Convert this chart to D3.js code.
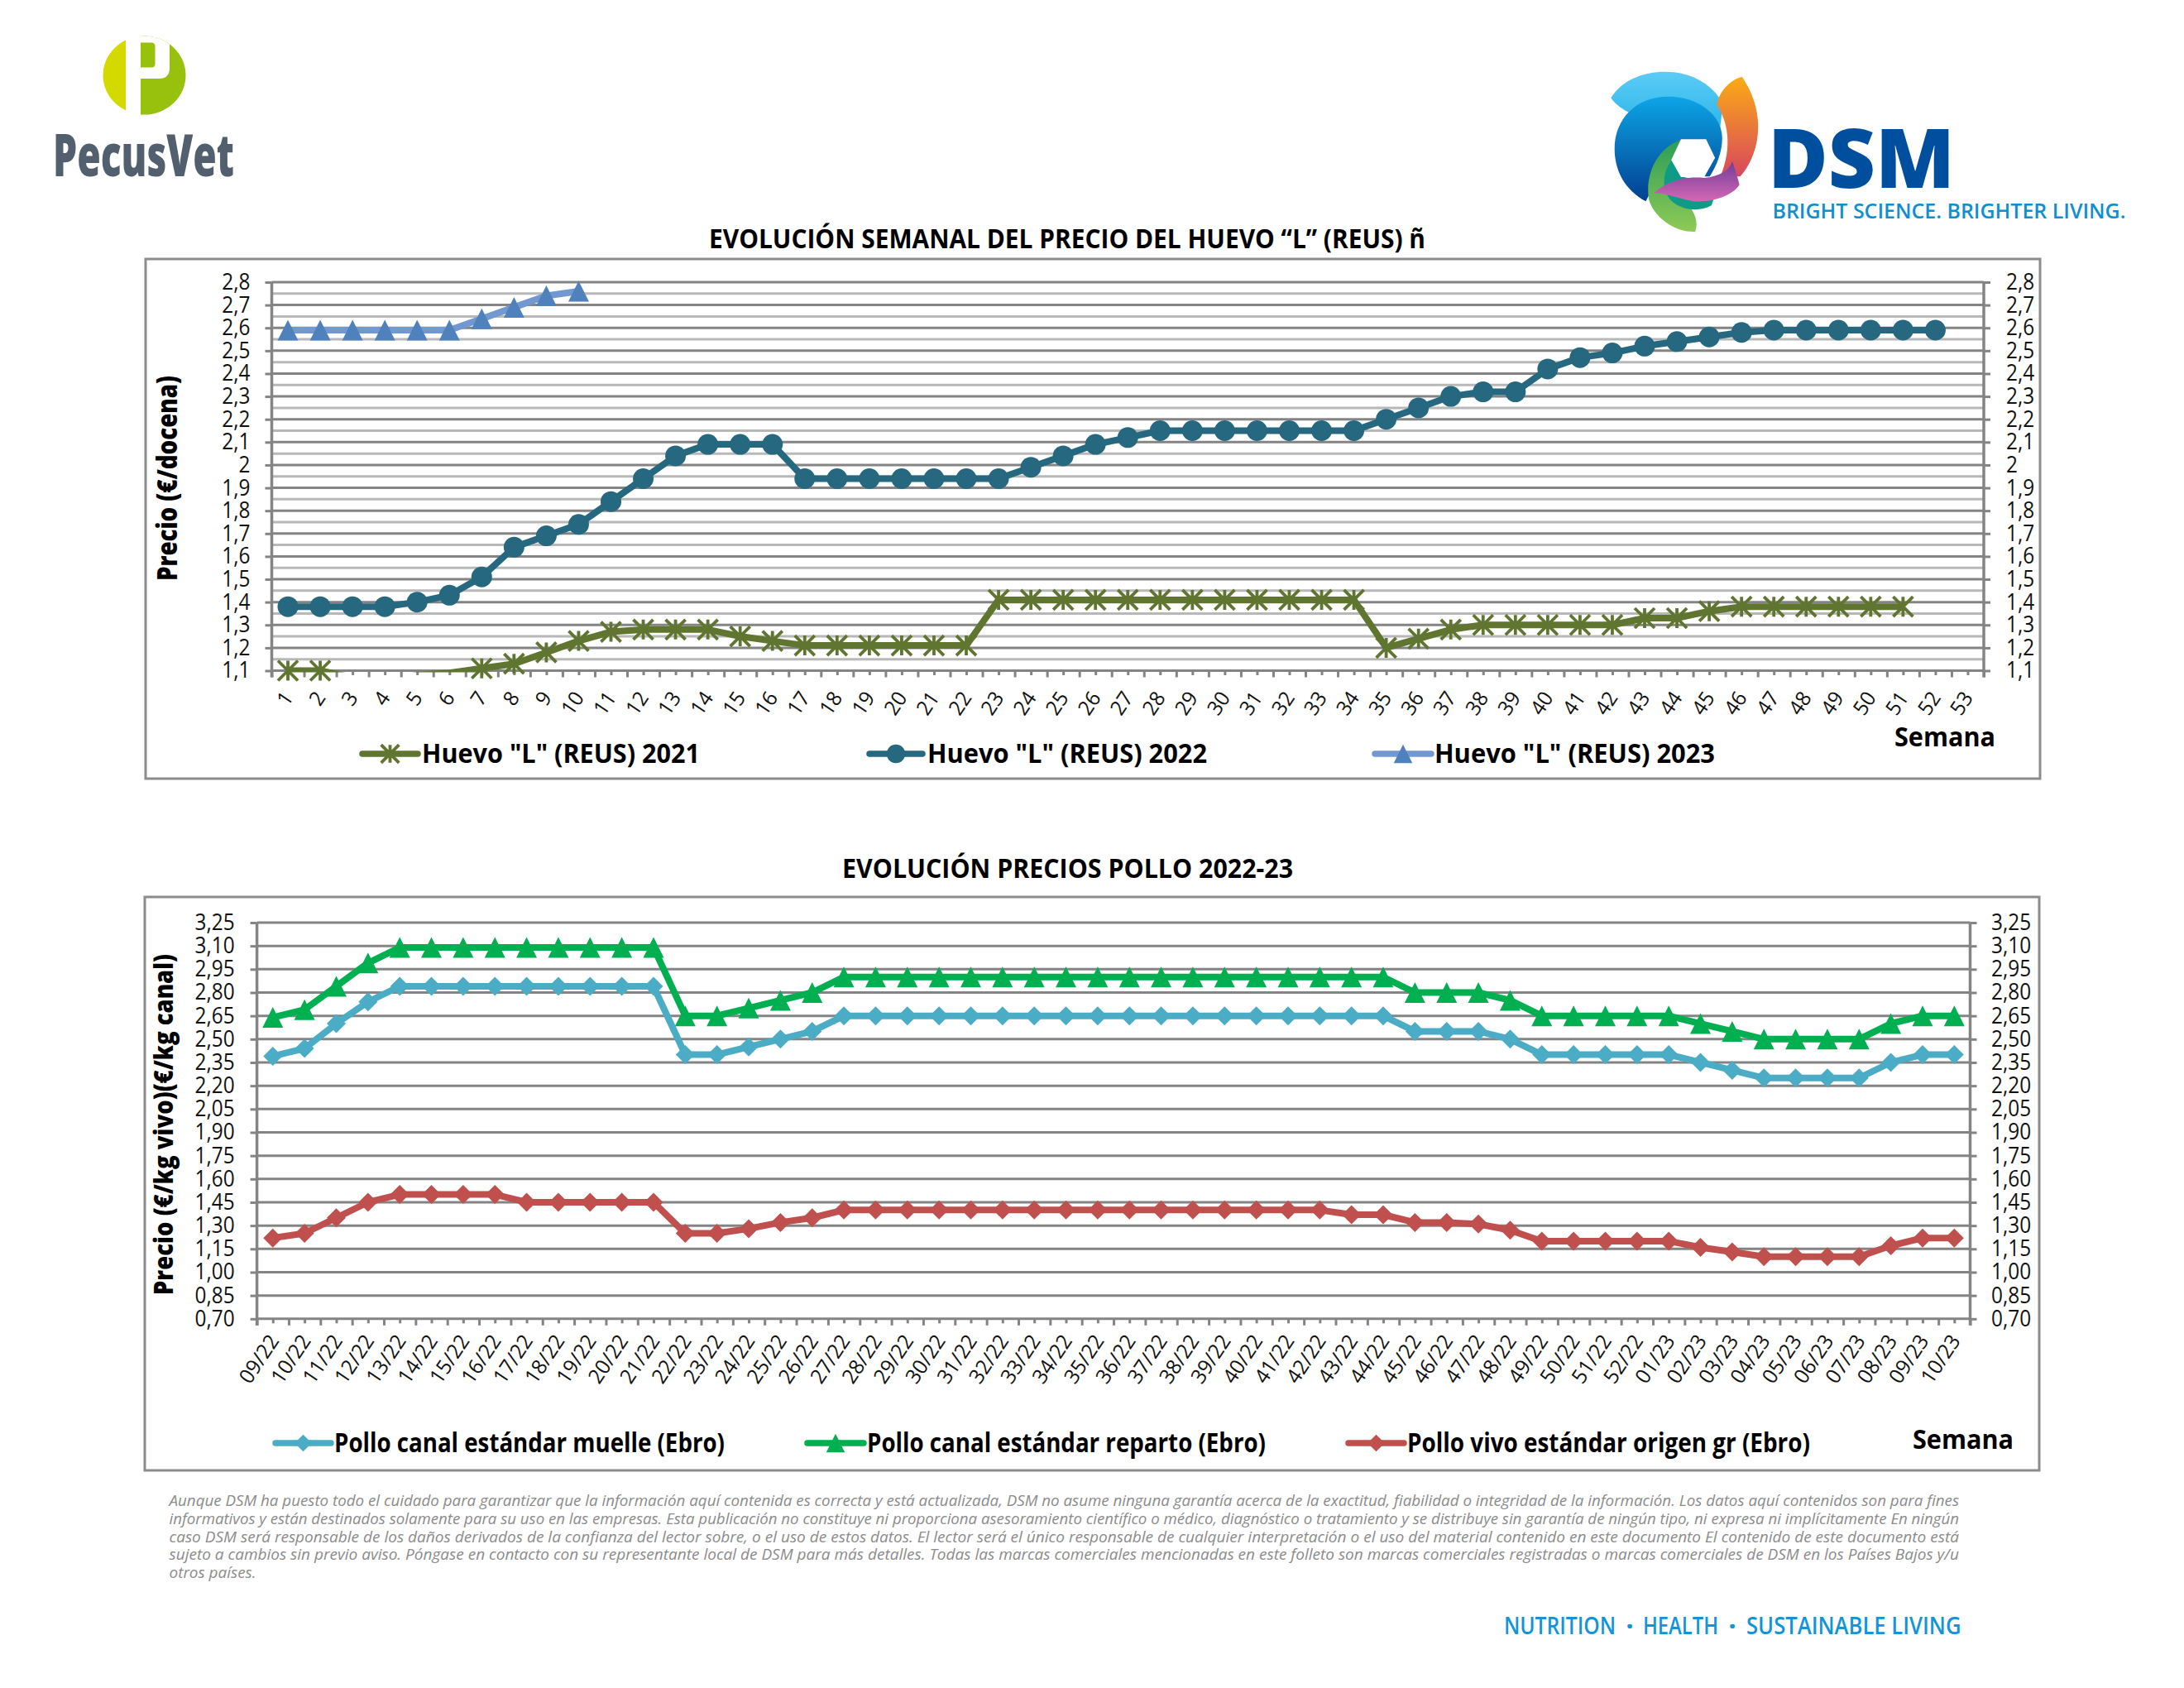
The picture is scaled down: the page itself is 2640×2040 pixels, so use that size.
<!DOCTYPE html>
<html><head><meta charset="utf-8">
<script src="https://cdn.jsdelivr.net/npm/d3@7"></script>
<style>html,body{margin:0;padding:0;background:#fff}svg{display:block}text{font-family:"Open Sans",sans-serif}</style>
</head><body><svg id="c" width="2640" height="2040" viewBox="0 0 2640 2040"></svg>
<script>
// ---------- data ----------
const eggWeeks = ["1","2","3","4","5","6","7","8","9","10","11","12","13","14","15","16","17","18","19","20","21","22","23","24","25","26","27","28","29","30","31","32","33","34","35","36","37","38","39","40","41","42","43","44","45","46","47","48","49","50","51","52","53"];
const egg2021 = [1.10,1.10,1.07,1.06,1.08,1.09,1.11,1.13,1.18,1.23,1.27,1.28,1.28,1.28,1.25,1.23,1.21,1.21,1.21,1.21,1.21,1.21,1.41,1.41,1.41,1.41,1.41,1.41,1.41,1.41,1.41,1.41,1.41,1.41,1.20,1.24,1.28,1.30,1.30,1.30,1.30,1.30,1.33,1.33,1.36,1.38,1.38,1.38,1.38,1.38,1.38];
const egg2022 = [1.38,1.38,1.38,1.38,1.40,1.43,1.51,1.64,1.69,1.74,1.84,1.94,2.04,2.09,2.09,2.09,1.94,1.94,1.94,1.94,1.94,1.94,1.94,1.99,2.04,2.09,2.12,2.15,2.15,2.15,2.15,2.15,2.15,2.15,2.20,2.25,2.30,2.32,2.32,2.42,2.47,2.49,2.52,2.54,2.56,2.58,2.59,2.59,2.59,2.59,2.59,2.59];
const egg2023 = [2.59,2.59,2.59,2.59,2.59,2.59,2.64,2.69,2.74,2.76];
const eggTicks = [1.1,1.2,1.3,1.4,1.5,1.6,1.7,1.8,1.9,2,2.1,2.2,2.3,2.4,2.5,2.6,2.7,2.8];
const eggMinor = [1.15,1.25,1.35,1.45,1.55,1.65,1.75,1.85,1.95,2.05,2.15,2.25,2.35,2.45,2.55,2.65,2.75];

const chickenWeeks = ["09/22","10/22","11/22","12/22","13/22","14/22","15/22","16/22","17/22","18/22","19/22","20/22","21/22","22/22","23/22","24/22","25/22","26/22","27/22","28/22","29/22","30/22","31/22","32/22","33/22","34/22","35/22","36/22","37/22","38/22","39/22","40/22","41/22","42/22","43/22","44/22","45/22","46/22","47/22","48/22","49/22","50/22","51/22","52/22","01/23","02/23","03/23","04/23","05/23","06/23","07/23","08/23","09/23","10/23"];
const muelle = [2.39,2.44,2.60,2.74,2.84,2.84,2.84,2.84,2.84,2.84,2.84,2.84,2.84,2.40,2.40,2.45,2.50,2.55,2.65,2.65,2.65,2.65,2.65,2.65,2.65,2.65,2.65,2.65,2.65,2.65,2.65,2.65,2.65,2.65,2.65,2.65,2.55,2.55,2.55,2.50,2.40,2.40,2.40,2.40,2.40,2.35,2.30,2.25,2.25,2.25,2.25,2.35,2.40,2.40];
const reparto = [2.64,2.69,2.84,2.99,3.09,3.09,3.09,3.09,3.09,3.09,3.09,3.09,3.09,2.65,2.65,2.70,2.75,2.80,2.90,2.90,2.90,2.90,2.90,2.90,2.90,2.90,2.90,2.90,2.90,2.90,2.90,2.90,2.90,2.90,2.90,2.90,2.80,2.80,2.80,2.75,2.65,2.65,2.65,2.65,2.65,2.60,2.55,2.50,2.50,2.50,2.50,2.60,2.65,2.65];
const vivo = [1.22,1.25,1.35,1.45,1.50,1.50,1.50,1.50,1.45,1.45,1.45,1.45,1.45,1.25,1.25,1.28,1.32,1.35,1.40,1.40,1.40,1.40,1.40,1.40,1.40,1.40,1.40,1.40,1.40,1.40,1.40,1.40,1.40,1.40,1.37,1.37,1.32,1.32,1.31,1.27,1.20,1.20,1.20,1.20,1.20,1.16,1.13,1.10,1.10,1.10,1.10,1.17,1.22,1.22];
const chickenTicks = [0.70,0.85,1.00,1.15,1.30,1.45,1.60,1.75,1.90,2.05,2.20,2.35,2.50,2.65,2.80,2.95,3.10,3.25];

const eggLegend = ['Huevo "L" (REUS) 2021','Huevo "L" (REUS) 2022','Huevo "L" (REUS) 2023'];
const chickenLegend = ['Pollo canal estándar muelle (Ebro)','Pollo canal estándar reparto (Ebro)','Pollo vivo estándar origen gr (Ebro)'];
const eggTitle = 'EVOLUCIÓN SEMANAL DEL PRECIO DEL HUEVO “L” (REUS) ñ';
const chickenTitle = 'EVOLUCIÓN PRECIOS POLLO 2022-23';
const disclaimer = [
"Aunque DSM ha puesto todo el cuidado para garantizar que la información aquí contenida es correcta y está actualizada, DSM no asume ninguna garantía acerca de la exactitud, fiabilidad o integridad de la información. Los datos aquí contenidos son para fines",
"informativos y están destinados solamente para su uso en las empresas. Esta publicación no constituye ni proporciona asesoramiento científico o médico, diagnóstico o tratamiento y se distribuye sin garantía de ningún tipo, ni expresa ni implícitamente En ningún",
"caso DSM será responsable de los daños derivados de la confianza del lector sobre, o el uso de estos datos. El lector será el único responsable de cualquier interpretación o el uso del material contenido en este documento El contenido de este documento está",
"sujeto a cambios sin previo aviso. Póngase en contacto con su representante local de DSM para más detalles. Todas las marcas comerciales mencionadas en este folleto son marcas comerciales registradas o marcas comerciales de DSM en los Países Bajos y/u",
"otros países."];

// ---------- helpers ----------
const svg = d3.select("#c");
const GRID="#848484", GRID2="#b8b8b8", BOX="#8c8c8c";
function squeeze(sel,f){sel.each(function(){const l=this.getComputedTextLength();this.setAttribute("textLength",l*f);this.setAttribute("lengthAdjust","spacingAndGlyphs");});return sel;}
function fitW(sel,w){sel.attr("textLength",w).attr("lengthAdjust","spacingAndGlyphs");return sel;}
function txt(p,s,x,y,size,weight,fill,width,anchor){
  const t=p.append("text").attr("x",x).attr("y",y).attr("font-size",size).attr("font-weight",weight).attr("fill",fill).attr("text-anchor",anchor||"start").text(s);
  if(width) fitW(t,width); return t;
}
const star={draw(ctx,size){const r=Math.sqrt(size)/2;
  ctx.moveTo(-r,-r);ctx.lineTo(r,r);ctx.moveTo(-r,r);ctx.lineTo(r,-r);ctx.moveTo(0,-r);ctx.lineTo(0,r);}};
const tri={draw(ctx,size){const r=Math.sqrt(size)/2;
  ctx.moveTo(0,-r);ctx.lineTo(r,r);ctx.lineTo(-r,r);ctx.closePath();}};
const dia={draw(ctx,size){const r=Math.sqrt(size)/2;
  ctx.moveTo(0,-r);ctx.lineTo(r,0);ctx.lineTo(0,r);ctx.lineTo(-r,0);ctx.closePath();}};
const circ={draw(ctx,size){const r=Math.sqrt(size)/2;ctx.moveTo(r,0);ctx.arc(0,0,r,0,Math.PI*2);}};
function marker(sel,s){
  const size=s.msize*s.msize;
  sel.attr("d",d3.symbol().type(s.type).size(size)()).attr("fill",s.type===star?"none":s.mcolor)
     .attr("stroke",s.type===star?s.mcolor:"none").attr("stroke-width",s.type===star?3.8:0);
}

function chart(o){
  const g=svg.append("g");
  g.append("rect").attr("x",o.box[0]).attr("y",o.box[1]).attr("width",o.box[2]-o.box[0]).attr("height",o.box[3]-o.box[1]).attr("fill","#fff").attr("stroke",BOX).attr("stroke-width",3);
  const x=d3.scaleBand().domain(o.cats).range([o.L,o.R]);
  const y=d3.scaleLinear().domain(o.dom).range([o.B,o.T]);
  const n=o.cats.length;
  const tickX=d3.scaleLinear().domain([0,n]).range([o.L,o.R]);
  if(o.minor) g.append("g").selectAll("line").data(o.minor).join("line").attr("x1",o.L).attr("x2",o.R).attr("y1",y).attr("y2",y).attr("stroke",GRID2).attr("stroke-width",3);
  const fmt=v=>o.fmt(v).replace(".",",");
  const style=a=>{a.select(".domain").remove();a.selectAll("line").attr("stroke",GRID).attr("stroke-width",3);};
  const la=g.append("g").attr("transform",`translate(${o.L},0)`).call(d3.axisLeft(y).tickValues(o.ticks).tickFormat(fmt).tickSize(8).tickPadding(o.pad));
  style(la);
  g.append("g").selectAll("line").data(o.ticks).join("line").attr("x1",o.L).attr("x2",o.R).attr("y1",y).attr("y2",y).attr("stroke",GRID).attr("stroke-width",3);
  const ra=g.append("g").attr("transform",`translate(${o.R},0)`).call(d3.axisRight(y).tickValues(o.ticks).tickFormat(fmt).tickSize(8).tickPadding(o.rpad));
  style(ra);
  [la,ra].forEach(a=>{const t=a.selectAll("text").attr("font-size",o.tickFont).attr("fill","#111").attr("font-family",'"Open Sans",sans-serif');squeeze(t,o.tickSq);});
  g.append("line").attr("x1",o.L).attr("x2",o.L).attr("y1",o.T).attr("y2",o.B+8).attr("stroke",GRID).attr("stroke-width",3.5);
  g.append("line").attr("x1",o.R).attr("x2",o.R).attr("y1",o.T).attr("y2",o.B+8).attr("stroke",GRID).attr("stroke-width",3.5);
  // x ticks: long at band edges, short at band centres
  const ta=g.append("g").attr("transform",`translate(0,${o.B})`).call(d3.axisBottom(tickX).tickValues(d3.range(n+1)).tickFormat("").tickSize(8));
  style(ta);
  const tb=g.append("g").attr("transform",`translate(0,${o.B})`).call(d3.axisBottom(tickX).tickValues(d3.range(n).map(i=>i+.5)).tickFormat("").tickSize(5.5));
  style(tb);
  // x labels
  const xa=g.append("g").attr("transform",`translate(0,${o.B})`).call(d3.axisBottom(x).tickSize(0).tickPadding(0));
  xa.select(".domain").remove();
  const xt=xa.selectAll("text").attr("font-size",o.xFont).attr("fill","#111").attr("font-family",'"Open Sans",sans-serif')
    .attr("text-anchor","end").attr("dy",null).attr("y",null)
    .attr("transform",`translate(${o.xdx},${o.xdy}) rotate(${o.xrot})`).attr("dominant-baseline","middle");
  squeeze(xt,o.xSq);
  const id="clip"+o.id;
  svg.append("clipPath").attr("id",id).append("rect").attr("x",o.L).attr("y",o.T-20).attr("width",o.R-o.L).attr("height",o.B-o.T+22);
  o.series.forEach(s=>{
    const pts=s.values.map((v,i)=>[o.cats[i],v]);
    const line=d3.line().x(d=>x(d[0])+x.bandwidth()/2).y(d=>y(d[1]));
    g.append("path").attr("d",line(pts)).attr("fill","none").attr("stroke",s.color).attr("stroke-width",s.width).attr("stroke-linejoin","round").attr("clip-path",`url(#${id})`);
    g.append("g").selectAll("path").data(pts.filter(d=>d[1]>=o.dom[0]&&d[1]<=o.dom[1])).join("path")
      .attr("transform",d=>`translate(${x(d[0])+x.bandwidth()/2},${y(d[1])})`).call(marker,s);
  });
  const yt=g.append("text").attr("transform",`translate(${o.ytX},${(o.ytA+o.ytB)/2}) rotate(-90)`).attr("text-anchor","middle").attr("font-size",o.ytSize).attr("font-weight",800).attr("fill","#000").text(o.yt);
  fitW(yt,o.ytB-o.ytA);
  txt(svg,o.title,o.titleX[0],o.titleY,o.titleSize,700,"#000",o.titleX[1]-o.titleX[0]);
  txt(svg,"Semana",o.sem[0],o.sem[2],33,700,"#000",o.sem[1]-o.sem[0]);
  o.series.forEach((s,i)=>{
    const l=o.legend[i];
    g.append("line").attr("x1",l[0]).attr("x2",l[1]).attr("y1",o.legY).attr("y2",o.legY).attr("stroke",s.color).attr("stroke-width",7.5).attr("stroke-linecap","round");
    g.append("path").attr("transform",`translate(${(l[0]+l[1])/2},${o.legY})`).call(marker,{...s,msize:s.msize*.9});
    txt(g,o.legendText[i],l[2],o.legBase,33,700,"#000",l[3]-l[2]);
  });
}

chart({id:1,box:[176,313,2466,941],L:328.5,R:2398,T:341,B:810.5,dom:[1.1,2.8],cats:eggWeeks,ticks:eggTicks,minor:eggMinor,
  fmt:v=>String(+v.toFixed(1)),pad:18,rpad:19,tickFont:26.5,tickSq:.92,xFont:25,xSq:.97,xrot:-56,xdx:2,xdy:29,
  series:[
   {values:egg2021,color:"#5f7530",width:8,type:star,msize:24,mcolor:"#5f7530"},
   {values:egg2022,color:"#25687f",width:8,type:circ,msize:25,mcolor:"#25687f"},
   {values:egg2023,color:"#7198d0",width:8,type:tri,msize:25,mcolor:"#4f81bd"}],
  yt:"Precio (€/docena)",ytX:214,ytA:454,ytB:702,ytSize:33,
  title:eggTitle,titleX:[857,1723],titleY:300,titleSize:33,sem:[2290,2412,902],
  legY:911,legBase:922,legendText:eggLegend,
  legend:[[438,505,510,846],[1051,1115,1121,1459],[1662,1730,1734,2073]]});

chart({id:2,box:[175,1084,2465,1777],L:310.6,R:2381.5,T:1115,B:1593.8,dom:[0.7,3.25],cats:chickenWeeks,ticks:chickenTicks,
  fmt:v=>v.toFixed(2),pad:19,rpad:17.5,tickFont:26.5,tickSq:.92,xFont:25,xSq:.97,xrot:-56,xdx:3,xdy:23,
  series:[
   {values:muelle,color:"#4bacc6",width:8,type:dia,msize:23,mcolor:"#4bacc6"},
   {values:reparto,color:"#00b050",width:8,type:tri,msize:25,mcolor:"#00b050"},
   {values:vivo,color:"#c0504d",width:8,type:dia,msize:23,mcolor:"#c0504d"}],
  yt:"Precio (€/kg vivo)(€/kg canal)",ytX:209,ytA:1153,ytB:1565,ytSize:31,
  title:chickenTitle,titleX:[1018,1563],titleY:1061,titleSize:33,sem:[2312,2434,1751],
  legY:1744,legBase:1755,legendText:chickenLegend,
  legend:[[333,400,404,876],[976,1044,1048,1530],[1630,1697,1701,2188]]});

disclaimer.forEach((d,i)=>{
  const t=svg.append("text").attr("x",204.5).attr("y",1820+i*21.8).attr("font-size",18).attr("font-style","italic").attr("fill","#8b8b8b").text(d);
  if(i<4) fitW(t,2163.5); else fitW(t,105);
});
[["NUTRITION",1818,1953],["HEALTH",1986,2077],["SUSTAINABLE LIVING",2111,2370.5]].forEach(a=>txt(svg,a[0],a[1],1975,28,600,"#1295d8",a[2]-a[1]));
[1970,2094].forEach(x=>txt(svg,"·",x,1975,28,800,"#1295d8",null,"middle"));

// PecusVet logo
const lg=svg.append("g");
svg.append("clipPath").attr("id","pv").append("ellipse").attr("cx",174.5).attr("cy",91).attr("rx",50).attr("ry",47.5);
const pg=lg.append("g").attr("clip-path","url(#pv)");
pg.append("rect").attr("x",120).attr("y",40).attr("width",32).attr("height",100).attr("fill","#d4d900");
pg.append("rect").attr("x",170).attr("y",40).attr("width",60).attr("height",100).attr("fill","#97c10c");
pg.append("path").attr("d","M170,40H205V82Q205,95 192,95H170Z").attr("fill","#fff");
pg.append("path").attr("d","M170,51.5H183Q187.5,51.5 187.5,56V77Q187.5,81.5 183,81.5H170Z").attr("fill","#97c10c");
const pvt=txt(lg,"PecusVet",64,213,70,900,"#525f6e",219);
pvt.attr("font-family","Roboto");

// DSM logo
const defs=svg.append("defs");
function grad(id,a,b){const g=defs.append("linearGradient").attr("id",id).attr("x1",0).attr("y1",0).attr("x2",0).attr("y2",1);g.append("stop").attr("offset",0).attr("stop-color",a);g.append("stop").attr("offset",1).attr("stop-color",b);}
grad("gBlue","#0da5e6","#023f90");grad("gOr","#fbab14","#d8475f");grad("gGr","#2a9d58","#8fca55");grad("gPur","#6f3d96","#d567b5");grad("gSky","#5ccbf5","#22b2e8");
const dg=svg.append("g").attr("transform","translate(1930,70) scale(0.4337,0.3333)").attr("fill-rule","evenodd");
dg.selectAll("path").data([
 ["M40,145C70,80 130,50 190,50C260,50 320,90 352,165L340,300L150,230C105,210 60,185 40,145Z","url(#gSky)"],
 ["M405,68C370,80 340,125 335,170C365,230 380,320 345,430L400,430C450,360 480,210 405,68Z","url(#gOr)"],
 ["M137,520C80,480 50,410 50,330C50,220 110,140 200,140C285,140 350,210 350,290C350,340 335,390 315,430L235,430L200,360Z","url(#gBlue)"],
 ["M240,295C175,320 135,410 145,510C155,570 215,635 275,630C285,590 272,550 235,500C215,450 205,400 210,370Z","url(#gGr)"],
 ["M210,370C180,420 180,490 215,525C240,550 285,560 320,535L340,460L235,430Z","#0f9c86"],
 ["M160,490C200,440 255,430 300,435C340,430 370,410 378,375C385,400 395,440 398,460C380,500 320,525 270,520C230,510 190,490 160,490Z","url(#gPur)"],
 ["M235,295H305L330,362L300,432H235L208,370Z","#fff"]
]).join("path").attr("d",d=>d[0]).attr("fill",d=>d[1]);
txt(svg,"DSM",2137,227,100,800,"#004f9f",226);
txt(svg,"BRIGHT SCIENCE. BRIGHTER LIVING.",2142.5,264,26,600,"#0f8fd2",427);
</script></body></html>
